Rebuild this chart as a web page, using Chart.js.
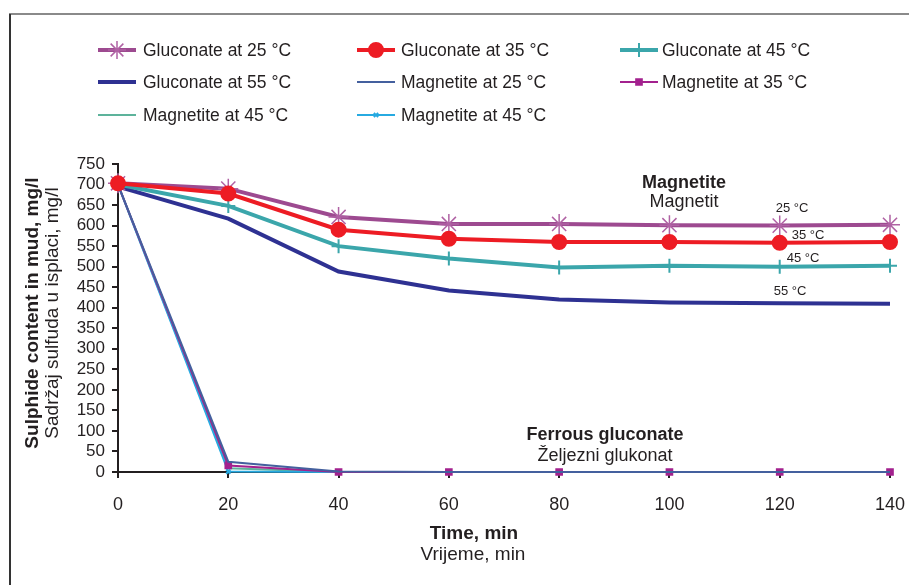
<!DOCTYPE html>
<html>
<head>
<meta charset="utf-8">
<script src="https://cdn.jsdelivr.net/npm/chart.js@4.4.1/dist/chart.umd.min.js"></script>
<style>
  html, body { margin: 0; padding: 0; background: #fff; }
  #wrap { width: 909px; height: 585px; position: relative; }
</style>
</head>
<body>
<div id="wrap"><canvas id="sulphide-chart" width="909" height="585"></canvas></div>
<script>
// ------------------------------------------------------------
// Sulphide content in mud vs time
// ------------------------------------------------------------
const times = [0, 20, 40, 60, 80, 100, 120, 140];

const gluconate25 = [703, 690, 621, 604, 604, 601, 600, 602];
const gluconate35 = [703, 678, 590, 568, 560, 560, 558, 560];
const gluconate45 = [700, 648, 550, 520, 498, 502, 500, 502];
const gluconate55 = [695, 617, 488, 442, 420, 413, 411, 410];
const magnetite25 = [700, 25, 1, 0, 0, 0, 0, 0];
const magnetite35 = [700, 16, 0, 0, 0, 0, 0, 0];
const magnetite45 = [700, 9, 0, 0, 0, 0, 0, 0];
const magnetite45b = [700, 1, 0, 0, 0, 0, 0, 0];

const seriesLabels = [
    "Gluconate at 25 °C", "Gluconate at 35 °C", "Gluconate at 45 °C",
    "Gluconate at 55 °C", "Magnetite at 25 °C", "Magnetite at 35 °C",
    "Magnetite at 45 °C", "Magnetite at 45 °C"
];

const yTicks = [0, 50, 100, 150, 200, 250, 300, 350, 400, 450, 500, 550, 600, 650, 700, 750];
const xTicks = [0, 20, 40, 60, 80, 100, 120, 140];

const FONT = "'Liberation Sans', Arial, sans-serif";
const INK = "#231f20";

function pts(values) {
    return times.map((t, i) => ({ x: t, y: values[i] }));
}

function makeSet(label, values, color, width, style, radius, pointColor, order) {
    return {
        label: label,
        data: pts(values),
        borderColor: color,
        backgroundColor: pointColor || color,
        pointBorderColor: pointColor || color,
        pointBackgroundColor: pointColor || color,
        borderWidth: width,
        pointStyle: style || false,
        pointRadius: style ? radius : 0,
        pointBorderWidth: style === "star" ? 1.5 : 2,
        tension: 0,
        clip: false,
        order: order
    };
}

const datasets = [
    makeSet(seriesLabels[0], gluconate25, "#9d4a90", 4, "star", 10, "#b062a4", 5),
    makeSet(seriesLabels[1], gluconate35, "#ed1c24", 4, "circle", 7, null, 0),
    makeSet(seriesLabels[2], gluconate45, "#3ba6ab", 4, "cross", 7, null, 6),
    makeSet(seriesLabels[3], gluconate55, "#2e3192", 4, false, 0, null, 7),
    makeSet(seriesLabels[4], magnetite25, "#44609e", 2, false, 0, null, 1),
    makeSet(seriesLabels[5], magnetite35, "#a3218e", 2, "rect", 4, null, 2),
    makeSet(seriesLabels[6], magnetite45, "#5db39b", 2, false, 0, null, 4),
    makeSet(seriesLabels[7], magnetite45b, "#27aae1", 2, "crossRot", 3, null, 3)
];

// legend grid: [lineStart, textStart, y]
const legendSlots = [
    [98, 143, 50], [357, 401, 50], [620, 662, 50],
    [98, 143, 82], [357, 401, 82], [620, 662, 82],
    [98, 143, 115], [357, 401, 115]
];

// frame + custom legend + texts
const decorations = {
    id: "decorations",
    afterDraw(chart) {
        const ctx = chart.ctx;
        ctx.save();

        // outer frame (top and left only)
        ctx.strokeStyle = "#8a8a8a";
        ctx.lineWidth = 2;
        ctx.beginPath();
        ctx.moveTo(9, 14);
        ctx.lineTo(909, 14);
        ctx.stroke();
        ctx.strokeStyle = "#333";
        ctx.beginPath();
        ctx.moveTo(10, 14);
        ctx.lineTo(10, 585);
        ctx.stroke();

        // legend
        chart.data.datasets.forEach((ds, i) => {
            const [x0, tx, y] = legendSlots[i];
            ctx.strokeStyle = ds.borderColor;
            ctx.lineWidth = ds.borderWidth;
            ctx.beginPath();
            ctx.moveTo(x0, y);
            ctx.lineTo(x0 + 38, y);
            ctx.stroke();
            if (ds.pointStyle) {
                ctx.fillStyle = ds.pointBackgroundColor;
                ctx.strokeStyle = ds.pointBorderColor;
                ctx.lineWidth = ds.pointBorderWidth;
                Chart.helpers.drawPoint(ctx, {
                    pointStyle: ds.pointStyle,
                    radius: ds.pointStyle === "star" ? 9 : ds.pointRadius,
                    rotation: 0,
                    borderWidth: ds.pointBorderWidth
                }, x0 + 19, y);
            }
            ctx.fillStyle = INK;
            ctx.font = "17.5px " + FONT;
            ctx.textAlign = "left";
            ctx.textBaseline = "middle";
            ctx.fillText(ds.label, tx, y + 1);
        });

        ctx.fillStyle = INK;
        ctx.textAlign = "center";
        ctx.textBaseline = "middle";

        // group notes
        ctx.font = "bold 18px " + FONT;
        ctx.fillText("Magnetite", 684, 183);
        ctx.fillText("Ferrous gluconate", 605, 435);
        ctx.font = "18px " + FONT;
        ctx.fillText("Magnetit", 684, 202);
        ctx.fillText("Željezni glukonat", 605, 456);

        ctx.font = "13px " + FONT;
        ctx.fillText("25 °C", 792, 208);
        ctx.fillText("35 °C", 808, 235);
        ctx.fillText("45 °C", 803, 258);
        ctx.fillText("55 °C", 790, 291);

        // x-axis title
        ctx.font = "bold 19px " + FONT;
        ctx.fillText("Time, min", 474, 534);
        ctx.font = "19px " + FONT;
        ctx.fillText("Vrijeme, min", 473, 555);

        // y-axis title
        ctx.translate(33, 313);
        ctx.rotate(-Math.PI / 2);
        ctx.font = "bold 19px " + FONT;
        ctx.fillText("Sulphide content in mud, mg/l", 0, 0);
        ctx.font = "19px " + FONT;
        ctx.fillText("Sadržaj sulfuda u isplaci, mg/l", 0, 20);

        ctx.restore();
    }
};

function initSulphideChart() {
    const canvas = document.getElementById("sulphide-chart");
    const ctx = canvas.getContext("2d");

    new Chart(ctx, {
        type: "line",
        data: { datasets: datasets },
        options: {
            responsive: false,
            animation: false,
            layout: { padding: { left: 0, top: 164, right: 19, bottom: 0 } },
            scales: {
                x: {
                    type: "linear",
                    min: 0,
                    max: 140,
                    afterFit: s => { s.height = 113; s.paddingLeft = 0; s.paddingRight = 0; },
                    afterBuildTicks: s => { s.ticks = xTicks.map(v => ({ value: v })); },
                    ticks: { color: INK, font: { family: FONT, size: 18 }, padding: 16, autoSkip: false, maxRotation: 0 },
                    grid: { drawOnChartArea: false, drawTicks: true, tickLength: 6, color: INK, lineWidth: 2 },
                    border: { color: INK, width: 2 }
                },
                y: {
                    min: 0,
                    max: 750,
                    afterFit: s => { s.width = 118; s.paddingTop = 0; s.paddingBottom = 0; },
                    afterBuildTicks: s => { s.ticks = yTicks.map(v => ({ value: v })); },
                    ticks: { color: INK, font: { family: FONT, size: 17 }, padding: 7, autoSkip: false },
                    grid: { drawOnChartArea: false, drawTicks: true, tickLength: 6, color: INK, lineWidth: 2 },
                    border: { color: INK, width: 2 }
                }
            },
            plugins: {
                legend: { display: false },
                tooltip: { enabled: false }
            }
        },
        plugins: [decorations]
    });
}

document.addEventListener("DOMContentLoaded", initSulphideChart);
</script>
</body>
</html>
